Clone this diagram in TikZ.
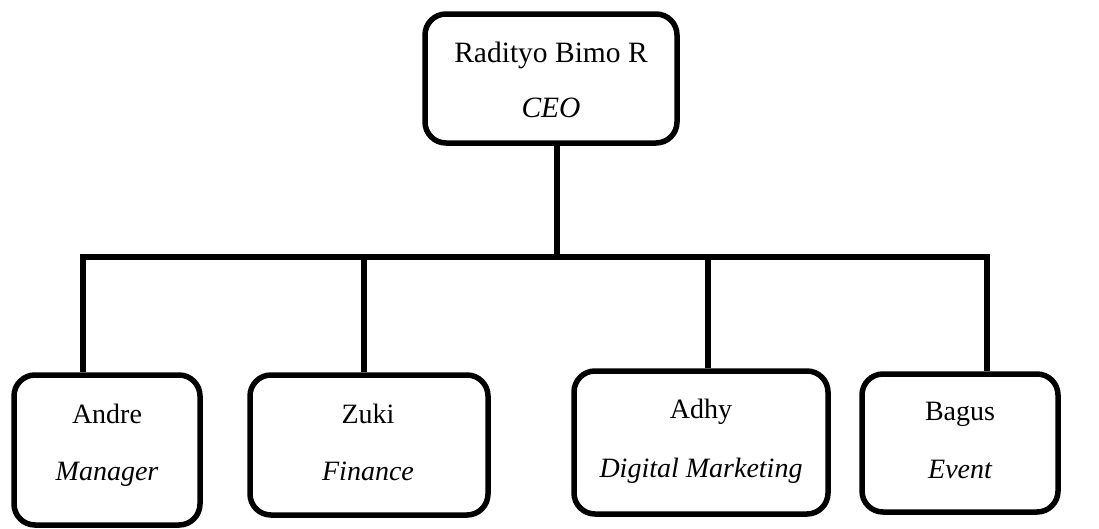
\documentclass[tikz,border=0pt]{standalone}
\usepackage{fontspec}
\setmainfont{Liberation Serif}
\begin{document}
\begin{tikzpicture}[x=1pt,y=-1pt,
  box/.style={draw=black, line width=5.5pt, rounded corners=21pt, inner sep=0pt},
  wire/.style={draw=black, line width=5.5pt, line join=miter},
  lbl/.style={anchor=base, inner sep=0pt, font=\fontsize{28}{34}\selectfont},
  role/.style={lbl, font=\fontsize{28}{34}\selectfont\itshape},
  toplbl/.style={anchor=base, inner sep=0pt, font=\fontsize{29.5}{35}\selectfont},
  toprole/.style={toplbl, font=\fontsize{29.5}{35}\selectfont\itshape}]
\useasboundingbox (0,0) rectangle (1099,528);

% boxes
\node[box, minimum width=252pt, minimum height=129pt] (ceo)   at (551,78.5) {};
\node[box, minimum width=186pt, minimum height=150pt] (andre) at (107,450) {};
\node[box, minimum width=238pt, minimum height=140pt] (zuki)  at (369,445) {};
\node[box, minimum width=254pt, minimum height=143pt] (adhy)  at (701,442.5) {};
\node[box, minimum width=196pt, minimum height=138pt] (bagus) at (960,443) {};

% texts
\node[toplbl]  (ceoN) at (551,62)  {Radityo Bimo R};
\node[toprole] (ceoR) at (551,117) {CEO};
\node[lbl]  (andreN) at (107,423) {Andre};
\node[role] (andreR) at (107,480) {Manager};
\node[lbl]  (zukiN)  at (368,423) {Zuki};
\node[role] (zukiR)  at (368,480) {Finance};
\node[lbl]  (adhyN)  at (701,418) {Adhy};
\node[role] (adhyR)  at (701,477) {Digital Marketing};
\node[lbl]  (bagusN) at (960,420) {Bagus};
\node[role] (bagusR) at (960,478) {Event};

% branch points on the bus
\coordinate (hub) at (557,257);
\coordinate (bA) at (83,257);
\coordinate (bZ) at (364,257);
\coordinate (bD) at (708,257);
\coordinate (bB) at (987,257);

% connectors
\draw[wire] (hub |- ceo.south) -- (hub);
\draw[wire] (bA |- andre.north) -- (bA) -- (bB) -- (bB |- bagus.north);
\draw[wire] (bZ) -- (bZ |- zuki.north);
\draw[wire] (bD) -- (bD |- adhy.north);
\end{tikzpicture}
\end{document}
